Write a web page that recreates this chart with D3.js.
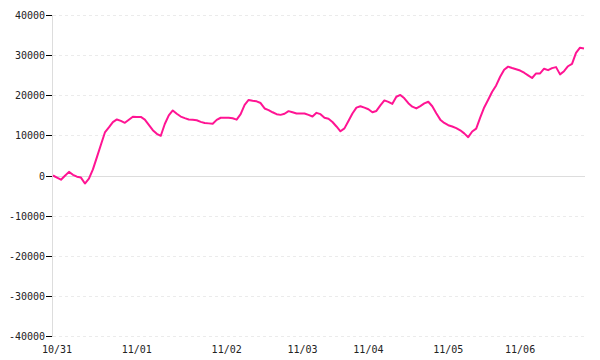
<!DOCTYPE html>
<html>
<head>
<meta charset="utf-8">
<script src="https://cdn.jsdelivr.net/npm/d3@7"></script>
<style>
  body { margin: 0; background: #fff; }
  svg text { font-family: "DejaVu Sans Mono", monospace; font-size: 10px; fill: #222; }
</style>
</head>
<body>
<div id="chart"></div>
<script>
// values, one per step
var values = [
  0, -520, -1050, -50, 900, 170, -300, -520, -2000, -800,
  1520, 4590, 7660, 10720, 11970, 13290, 13970, 13620, 13140, 13890,
  14640, 14610, 14590, 13940, 12620, 11300, 10400, 9900, 12840, 14990,
  16210, 15390, 14690, 14290, 13970, 13870, 13770, 13370, 13090, 12990,
  12890, 13870, 14390, 14390, 14390, 14270, 13920, 15290, 17610, 18830,
  18610, 18480, 18060, 16710, 16310, 15760, 15290, 15110, 15390, 16040,
  15760, 15460, 15460, 15460, 15110, 14710, 15610, 15290, 14390, 14140,
  13340, 12220, 11020, 11750, 13590, 15460, 16910, 17260, 16910, 16510,
  15760, 16090, 17460, 18710, 18360, 17860, 19630, 20080, 19250, 18010,
  17160, 16710, 17310, 17960, 18380, 17260, 15510, 13920, 13090, 12540,
  12220, 11820, 11270, 10500, 9550, 10970, 11670, 14420, 16960, 18880,
  20870, 22450, 24620, 26360, 27130, 26790, 26490, 26160, 25610, 24940,
  24300, 25440, 25440, 26610, 26260, 26760, 27010, 25200, 26000, 27230,
  27830, 30550, 31850, 31670
];
var dayLabels = ["10/31", "11/01", "11/02", "11/03", "11/04", "11/05", "11/06"];
var dayIndex = [1, 21, 43.5, 62.5, 79, 99, 117];
var yTicks = [40000, 30000, 20000, 10000, 0, -10000, -20000, -30000, -40000];

var width = 600, height = 360;
var margin = {top: 15, right: 16, bottom: 24, left: 52};

var svg = d3.select("#chart").append("svg")
    .attr("width", width)
    .attr("height", height);

var x = d3.scaleLinear()
    .domain([0, values.length - 1])
    .range([margin.left + 1, width - margin.right]);

var y = d3.scaleLinear()
    .domain([-40000, 40000])
    .range([height - margin.bottom, margin.top]);

// grid lines
svg.append("g").selectAll("line")
    .data(yTicks)
    .enter().append("line")
    .attr("x1", margin.left + 1)
    .attr("x2", width - margin.right + 1)
    .attr("y1", function (d) { return Math.round(y(d)) + 0.5; })
    .attr("y2", function (d) { return Math.round(y(d)) + 0.5; })
    .attr("stroke", function (d) { return d === 0 ? "#ddd" : "#ebebeb"; })
    .attr("stroke-dasharray", function (d) { return d === 0 ? null : "3,3"; });

// y axis line
svg.append("line")
    .attr("x1", margin.left + 0.5)
    .attr("x2", margin.left + 0.5)
    .attr("y1", Math.round(y(40000)))
    .attr("y2", Math.round(y(-40000)) + 1)
    .attr("stroke", "#ddd");

// ticks and labels
var tickG = svg.append("g").selectAll("g")
    .data(yTicks)
    .enter().append("g")
    .attr("transform", function (d) { return "translate(0," + (Math.round(y(d)) + 0.5) + ")"; });

tickG.append("line")
    .attr("x1", margin.left - 6)
    .attr("x2", margin.left)
    .attr("stroke", "#000");

tickG.append("text")
    .attr("x", margin.left - 7)
    .attr("dy", "0.34em")
    .style("text-anchor", "end")
    .text(function (d) { return d; });

// x labels
svg.append("g").selectAll("text")
    .data(dayLabels)
    .enter().append("text")
    .attr("x", function (d, i) { return x(dayIndex[i]); })
    .attr("y", height - 7)
    .style("text-anchor", "middle")
    .text(function (d) { return d; });

// the line
var line = d3.line()
    .x(function (d, i) { return x(i); })
    .y(function (d) { return y(d); });

svg.append("path")
    .datum(values)
    .attr("d", line)
    .attr("fill", "none")
    .attr("stroke", "#ff1493")
    .attr("stroke-width", 2)
    .attr("stroke-linejoin", "round");
</script>
</body>
</html>
